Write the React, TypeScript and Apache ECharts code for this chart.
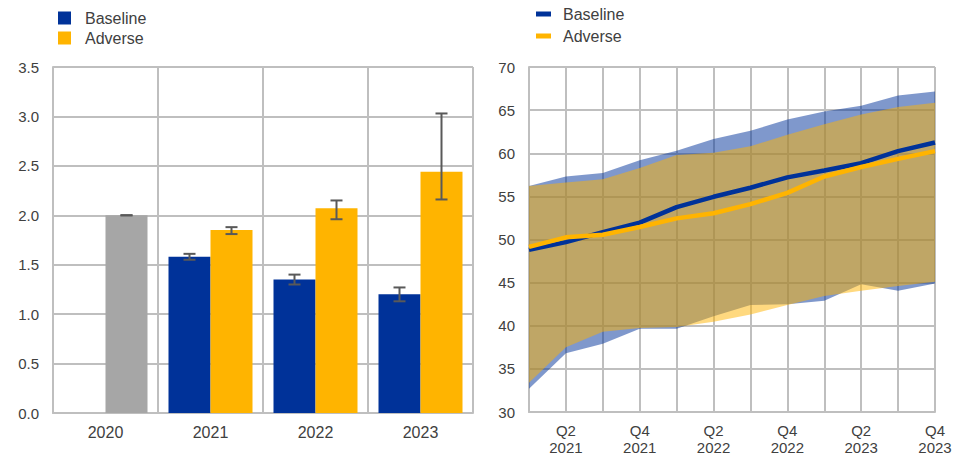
import { useEffect, useRef } from "react";
import * as echarts from "echarts";

// left panel: annual values with ranges
const years = ["2020", "2021", "2022", "2023"];
const actual2020 = 2.0;
const baselineBars = [null, 1.58, 1.35, 1.2];
const baselineLow = [null, 1.55, 1.3, 1.13];
const baselineHigh = [null, 1.61, 1.4, 1.27];
const adverseBars = [null, 1.85, 2.07, 2.44];
const adverseLow = [null, 1.81, 1.96, 2.16];
const adverseHigh = [null, 1.88, 2.15, 3.03];

// right panel: quarterly paths with bands
const quarters = [
  "Q1 2021", "Q2 2021", "Q3 2021", "Q4 2021",
  "Q1 2022", "Q2 2022", "Q3 2022", "Q4 2022",
  "Q1 2023", "Q2 2023", "Q3 2023", "Q4 2023",
];
const baselinePath = [48.8, 49.7, 50.85, 51.95, 53.75, 54.95, 56.0, 57.2, 58.0, 58.85, 60.25, 61.25];
const adversePath = [49.15, 50.25, 50.55, 51.45, 52.45, 53.05, 54.1, 55.4, 57.3, 58.4, 59.35, 60.25];
const baselineBandLow = [32.7, 36.8, 37.9, 39.65, 39.65, 41.1, 42.4, 42.5, 42.9, 44.8, 44.05, 44.9];
const baselineBandHigh = [56.2, 57.3, 57.7, 59.2, 60.3, 61.65, 62.6, 63.9, 64.85, 65.5, 66.7, 67.15];
const adverseBandLow = [33.4, 37.5, 39.3, 39.75, 39.85, 40.45, 41.3, 42.4, 43.45, 44.05, 44.6, 45.1];
const adverseBandHigh = [56.2, 56.6, 57.0, 58.3, 59.8, 60.05, 60.8, 62.15, 63.35, 64.5, 65.35, 65.85];

const BLUE = "#003299";
const YELLOW = "#FFB400";
const GREY = "#A6A6A6";
const GRID = "#BFBFBF";
const TEXT = "#404040";
const FONT = "'Liberation Sans', Arial, sans-serif";

function barOption() {
  const ranges: (number | null)[][] = [[0, actual2020, actual2020, 1]];
  years.forEach((_, i) => {
    if (baselineLow[i] != null) ranges.push([i, baselineLow[i], baselineHigh[i], 0]);
    if (adverseLow[i] != null) ranges.push([i, adverseLow[i], adverseHigh[i], 1]);
  });

  return {
    animation: false,
    textStyle: { fontFamily: FONT },
    legend: {
      left: 53,
      top: 5,
      orient: "vertical",
      icon: "rect",
      itemWidth: 13,
      itemHeight: 13,
      itemGap: 4,
      data: ["Baseline", "Adverse"],
      textStyle: { color: TEXT, fontSize: 16, lineHeight: 14, padding: [0, 0, 0, 9], fontFamily: FONT },
    },
    grid: { left: 53, right: 8, top: 67, bottom: 44 },
    xAxis: {
      type: "category",
      data: years,
      axisLine: { lineStyle: { color: GRID, width: 2 } },
      axisTick: { show: false },
      axisLabel: { color: TEXT, fontSize: 16, margin: 11, fontFamily: FONT },
      splitLine: { show: true, interval: 0, lineStyle: { color: GRID, width: 2 } },
    },
    yAxis: {
      type: "value",
      min: 0,
      max: 3.5,
      interval: 0.5,
      axisLine: { show: true, lineStyle: { color: GRID, width: 2 } },
      axisTick: { show: false },
      axisLabel: {
        color: TEXT,
        fontSize: 15,
        margin: 14,
        fontFamily: FONT,
        formatter: (v: number) => v.toFixed(1),
      },
      splitLine: { lineStyle: { color: GRID, width: 2 } },
    },
    series: [
      {
        name: "Baseline",
        type: "bar",
        barGap: "0%",
        barCategoryGap: "20%",
        itemStyle: { color: BLUE },
        data: baselineBars,
      },
      {
        name: "Adverse",
        type: "bar",
        itemStyle: { color: YELLOW },
        data: adverseBars.map((v, i) =>
          i === 0 ? { value: actual2020, itemStyle: { color: GREY } } : v
        ),
      },
      {
        name: "range",
        type: "custom",
        silent: true,
        z: 5,
        encode: { x: 0, y: [1, 2] },
        data: ranges,
        renderItem: (_params: any, api: any) => {
          const cat = api.value(0);
          const lo = api.coord([cat, api.value(1)]);
          const hi = api.coord([cat, api.value(2)]);
          const bw = api.size([1, 0])[0];
          const x = lo[0] + (api.value(3) === 0 ? -0.2 : 0.2) * bw;
          const half = 6;
          const style = { stroke: "#595959", lineWidth: 2 };
          return {
            type: "group",
            children: [
              { type: "line", shape: { x1: x, y1: hi[1], x2: x, y2: lo[1] }, style },
              { type: "line", shape: { x1: x - half, y1: hi[1], x2: x + half, y2: hi[1] }, style },
              { type: "line", shape: { x1: x - half, y1: lo[1], x2: x + half, y2: lo[1] }, style },
            ],
          };
        },
      },
    ],
  };
}

function lineOption() {
  const diff = (hi: number[], lo: number[]) => hi.map((v, i) => +(v - lo[i]).toFixed(3));
  const hidden = { lineStyle: { opacity: 0 }, symbol: "none", silent: true };

  return {
    animation: false,
    textStyle: { fontFamily: FONT },
    legend: {
      left: 50,
      top: 1,
      orient: "vertical",
      icon: "rect",
      itemWidth: 15,
      itemHeight: 5,
      itemGap: 6,
      data: ["Baseline", "Adverse"],
      textStyle: { color: TEXT, fontSize: 16, lineHeight: 16, padding: [0, 0, 0, 7], fontFamily: FONT },
    },
    grid: { left: 48, right: 27, top: 67, bottom: 45 },
    xAxis: {
      type: "category",
      data: quarters,
      boundaryGap: false,
      axisLine: { lineStyle: { color: GRID, width: 2 } },
      axisTick: { show: false },
      axisLabel: {
        color: TEXT,
        fontSize: 15,
        lineHeight: 17,
        margin: 10,
        fontFamily: FONT,
        interval: (index: number) => index % 2 === 1,
        formatter: (v: string) => v.replace(" ", "\n"),
      },
      splitLine: { show: true, interval: 0, lineStyle: { color: GRID, width: 2 } },
    },
    yAxis: {
      type: "value",
      min: 30,
      max: 70,
      interval: 5,
      axisLine: { show: true, lineStyle: { color: GRID, width: 2 } },
      axisTick: { show: false },
      axisLabel: { color: TEXT, fontSize: 15, margin: 14, fontFamily: FONT },
      splitLine: { lineStyle: { color: GRID, width: 2 } },
    },
    series: [
      { name: "bLow", type: "line", stack: "b", data: baselineBandLow, ...hidden },
      {
        name: "bBand",
        type: "line",
        stack: "b",
        data: diff(baselineBandHigh, baselineBandLow),
        ...hidden,
        areaStyle: { color: BLUE, opacity: 0.5 },
      },
      { name: "aLow", type: "line", stack: "a", data: adverseBandLow, ...hidden },
      {
        name: "aBand",
        type: "line",
        stack: "a",
        data: diff(adverseBandHigh, adverseBandLow),
        ...hidden,
        areaStyle: { color: YELLOW, opacity: 0.5 },
      },
      {
        name: "Baseline",
        type: "line",
        data: baselinePath,
        symbol: "none",
        itemStyle: { color: BLUE },
        lineStyle: { color: BLUE, width: 4.5 },
        z: 3,
      },
      {
        name: "Adverse",
        type: "line",
        data: adversePath,
        symbol: "none",
        itemStyle: { color: YELLOW },
        lineStyle: { color: YELLOW, width: 4.5 },
        z: 4,
      },
    ],
  };
}

function Panel({ makeOption, width }: { makeOption: () => any; width: number }) {
  const ref = useRef<HTMLDivElement>(null);

  useEffect(() => {
    if (!ref.current) return;
    const chart = echarts.init(ref.current, null, { renderer: "svg" });
    chart.setOption(makeOption());
    return () => chart.dispose();
  }, []);

  return <div ref={ref} style={{ width, height: 457 }} />;
}

export default function App() {
  return (
    <div
      style={{
        position: "absolute",
        left: 0,
        top: 0,
        width: 962,
        height: 457,
        display: "flex",
        background: "#fff",
      }}
    >
      <Panel makeOption={barOption} width={481} />
      <Panel makeOption={lineOption} width={481} />
    </div>
  );
}
